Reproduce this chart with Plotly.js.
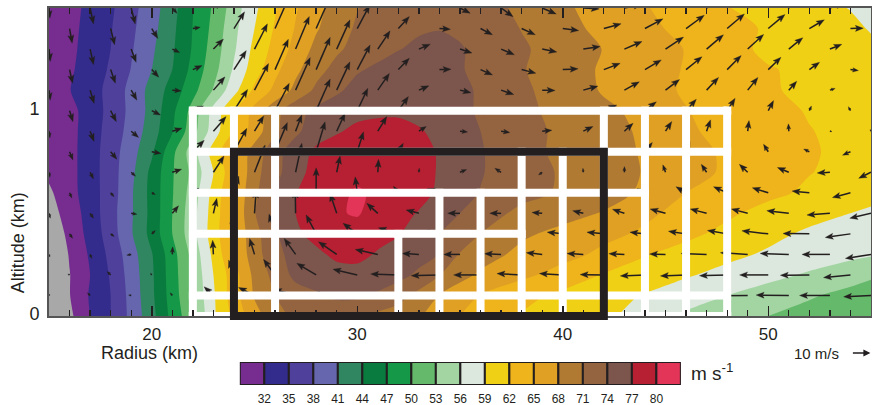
<!DOCTYPE html>
<html><head><meta charset="utf-8">
<script src="https://cdn.plot.ly/plotly-3.0.1.min.js"></script>
<style>html,body{margin:0;padding:0;background:#fff}</style></head>
<body><div id="chart" style="width:872px;height:405px"></div>
<script>
// Radius (km) and altitude (km) of the tangential wind grid
const radius = [15,16,17,18,19,20,21,22,23,24,25,26,27,28,29,30,31,32,33,34,35,36,38,40,42,44,46,48,50,52,54,55];
const altitude = [0,0.1,0.2,0.3,0.4,0.5,0.6,0.7,0.8,0.9,1.0,1.1,1.2,1.3,1.4,1.5];
// Wind speed (m/s) per altitude
const v00 = [24.5,28.3,32,35,38.8,43,48,52.3,58.5,62.8,66.9,69.7,71.8,72.5,72.6,71.8,70.3,69.7,68.3,66.6,65,63.9,61.8,60.7,59.6,57.8,55.5,54.3,53,52,51,50.6];
const v01 = [25,28.9,32.3,35,39,43.4,48.4,53.2,58.6,63.7,68.3,71,72.6,73.6,74.4,74.5,73.6,72,70.1,67.9,66.3,64.9,62.9,61.3,60.1,58.8,57.4,56,54.6,53.3,52.2,51.7];
const v02 = [25.5,28.9,32,35.3,39.3,43.5,48.6,53.5,59,63.7,68.8,72,74.8,75.4,75.9,76,75.6,75,73.4,71.1,69,67.5,65.7,63.8,61.8,60.6,59.3,58.1,56.9,55.6,54.1,53.4];
const v03 = [26,29.2,32.4,35.8,39.7,43.8,48.8,54,59.7,65.2,69.6,73.2,75,76.4,77.6,77.8,76.7,75.8,75.2,73.9,70.8,69.3,67.2,66,64.3,62.2,60.9,59.7,58.6,57.7,56.8,56.3];
const v04 = [26.5,29.8,33,36.5,40.7,45,50,55,60.6,65.4,69.9,73.6,76.5,77.9,78.4,78.6,78,77.2,75.7,74.1,72.5,71,68.5,67.2,65.8,64.5,62.7,61.2,59.8,58.5,57.3,56.8];
const v05 = [27.7,30.3,33.3,36.8,40.6,44.9,50,54.9,60.4,65.3,70.8,74.6,77,78.2,79.7,80.3,78.7,77.9,76.8,75.5,74,72.5,70.2,69,67.8,65.6,64,62.5,61,60,59,58.5];
const v06 = [28.5,30.9,33.6,36.5,40.6,45,49.8,54.4,60,65.2,70.3,74.1,76.9,78.1,79.4,80.3,79.6,79,78,76.5,74.9,73.9,72,70.6,69.2,67.5,65,63.9,62.7,61.5,60.5,60];
const v07 = [29.6,31,33.6,36.6,40.2,44.8,49.7,53.8,59,64.4,70,73,76,78,79.2,79.3,79.3,79.2,78.3,76.7,75.3,74.2,72.2,70.7,69.6,67.8,66,64.6,63.1,62.1,61.2,60.7];
const v08 = [30,31,33.6,36.5,39.8,43.5,49.2,54.7,60.2,65.3,69.2,72.9,75.5,77.6,78.5,79,79.3,79.1,78.5,76.6,75.3,74.2,72.2,70.2,69.2,67.7,65.7,64.7,63.4,62.2,61.5,61];
const v09 = [30,31,33.5,36.2,39.1,42.5,46.8,51.9,57.5,62.4,66.4,70.4,73.4,75.6,76.7,77.7,78.2,78.3,77.3,76.2,75.2,74,72,70.4,69.1,67.5,65.4,64.2,63.1,62.1,61.3,60.8];
const v10 = [30,31,33.4,35.9,38.8,42,46.3,51.1,57,61.7,66,70,73,74.7,75.6,76.1,76.3,76.3,76,75.5,74.6,73.7,71.8,70,68.6,67.2,65.1,64,62.9,61.8,61,60.6];
const v11 = [30.4,31.9,33.7,35.9,38.9,42,45.2,49,53.2,58,62.6,65.7,68.8,71.6,73.5,75,76,76.4,76.4,76,74.9,73.5,71.5,69.8,67.7,66,64.7,63.4,62.3,61.4,60.7,60.4];
const v12 = [30.2,31.6,33.2,35.4,38.1,41,44,47.9,51.9,56.4,60.6,64.2,67.3,69.9,72,73.7,74.5,75.2,75.7,75.8,74.3,73,71.2,69.5,67.6,66.3,64.8,63.4,62.2,61.4,60.8,60.4];
const v13 = [30,31.4,33,35,37.7,40.5,43.6,47.3,51.3,55.6,59.8,63,66,68.8,70.5,72,73.1,73.9,74.5,74.8,74.2,73.4,71.4,69.6,67.9,66.3,64.9,63,61.4,60.6,60,59.6];
const v14 = [30,31.3,32.8,34.8,37.4,40,43.3,47.1,50.8,55.2,59,62.3,65.2,67.7,69.7,71.4,72.4,73.1,73.7,73.9,73.6,72.9,70.9,69,67.2,65.7,64.2,62.9,61.7,60.8,59.6,58.8];
const v15 = [30,31.2,32.6,34.5,37.1,39.6,42.9,46.9,50.4,54.5,58.4,61.7,64.7,67.2,69.1,70.9,71.9,72.5,73,73.2,73,72.4,70.3,68.5,66.8,65.2,63.6,62.1,61,60,58.9,58];
const speedRows = [v00,v01,v02,v03,v04,v05,v06,v07,v08,v09,v10,v11,v12,v13,v14,v15];

// Band colours, slowest to fastest, and colourbar labels
const grayBand = '#a8a8a8';
const bandColors = ['#762d8f','#332c8c','#4f409b','#6566ae','#2f8660','#0a7b3e','#159847','#65b96a','#a3d5a3','#dce8dd','#f0d015','#efb31b','#dfa024','#b07a33','#946440','#7c564c','#b71f32','#e23558'];
const barLevels = [30.5,33.5,36.5,39.5,42.5,45.5,48.5,51.5,54.5,57.5,60.5,63.5,66.5,69.5,72.5,75.5,78.5,81.5];
const barTicks = [32,35,38,41,44,47,50,53,56,59,62,65,68,71,74,77,80];

// Wind vectors (m/s): radial u and vertical w along staggered levels
const u01 = [.4,-1.4,-1.4,-1.1,-4.9,-8.4,-11.6,-13.2,-14,-14,-14,-14,-14,-14,-14,-14,-15,-17.2,-17.2,-16,-14.4];
const w01 = [.7,1.4,.2,1.4,4.6,4.2,3.2,.9,0,0,0,0,0,0,0,0,0,-.2,.2,0,-.7];
const u02 = [-.9,-1.9,-.7,-.5,-2.8,-6.1,-10.2,-12.8,-14.6,-14.9,-14.2,-13,-12.3,-12.5,-13,-13.5,-14.6,-15.1,-15.3,-14.2];
const w02 = [.5,1.8,.9,1.4,7.9,8.2,6.1,3,.5,-.4,0,.7,.7,.2,-.5,-.5,-.4,0,-.2,-1.4];
const u03 = [.5,.9,-2.3,.2,-.4,-2.6,-6,-9.6,-11.9,-8.8,-8.6,-8.8,-8.4,-8.6,-8.2,-8.4,-13.5,-14.4,-15.1,-14.7,-13.5];
const w03 = [-1.4,-2.1,-.4,4,7.5,8.4,8.4,6.7,2.6,.5,0,.4,.9,.5,.4,.2,.5,.9,.5,0,-2.1];
const u04 = [1.6,1.9,1.9,.9,-1.1,-3.2,-5.3,-7.5,-10.5,-9.6,-8.8,-7.9,-8.2,-8.9,-7.9,-9.3,-10.4,-13.9,-13.9,-13.3];
const w04 = [-2.3,-1.4,1.8,3.5,9.6,10.5,10,5.6,3.2,1.1,.9,.7,.9,.9,.9,1.4,1.8,1.6,.2,-1.9];
const u05 = [.7,1.8,3,3.3,1.8,.9,-.2,-3.5,-5.8,-6.7,-6.5,-6,-5.4,-5.6,-6.3,-8.1,-8.6,-8.6,-11.6,-12.1,-11.2];
const w05 = [-2.6,-2.6,-.5,4,7.9,12.3,12.3,10.5,5.3,1.8,0,0,.5,1.4,2.1,2.3,2.3,2.3,1.4,-.9,-2.6];
const u06 = [1.2,1.8,1.9,3.2,2.5,.9,0,-1.1,-2.6,-6.5,-4.6,-2.6,-2.1,-1.8,-4.2,-5.3,-7.2,-8.4,-9.1,-9.5];
const w06 = [-2.8,-2.1,-.9,2.5,8.8,12.3,13.2,8.4,3.5,2.3,.5,0,1.8,1.2,2.3,3.2,3.2,2.6,.9,-2.5];
const u07 = [.5,1.8,2.3,4.9,5.6,5.6,3.3,1.8,.4,.2,3.5,-3.3,-1.9,-.2,0,-1.4,-2.8,-4.4,-6,-6.7,-6.5];
const w07 = [-2.6,-3.5,-2.1,1.6,8.6,14.4,15.3,8.6,6.8,2.1,1.4,2.1,-1.4,2.1,3,3.9,4.2,4.2,2.5,-.4,-3.2];
const u08 = [1.8,3.3,4.9,6,6.8,6.5,4.7,3.3,2.6,2.1,1.8,1.4,2.1,2.6,3.9,2.1,.9,-2.5,-3,-4.2];
const w08 = [-4.4,-4,-.9,6.1,12.3,15.4,15.8,10.5,4.4,.5,-.2,0,1.1,1.8,4.9,5.3,5.3,4,1.4,-1.8];
const u09 = [.5,2.1,3.9,5.1,6.7,4.9,3.3,4.4,4.7,3.9,4,4.6,5.1,5.1,4.6,3.3,2.1,.7,-.2,1.1,-.5];
const w09 = [-3.5,-5.4,-3.3,1.6,7.7,8.1,8.6,9.5,7.7,2.5,-.4,-.7,.5,2.5,4.2,5.1,6,5.6,3.9,-.2,.9];
const u10 = [1.8,3,4.6,5.6,7.2,7.5,7.4,5.6,5.3,5.3,5.3,5.6,6.1,6.8,6,5.4,4.2,2.8,1.1,-1.1];
const w10 = [-5.8,-5.8,-2.3,2.5,11.2,14.4,16.7,11.8,7.4,.9,-.9,-.9,.5,3,4.7,6,6.5,5.3,2.5,2.1];
const u11 = [.7,2.1,3,4.7,6.1,7.4,7.7,7,6.1,5.3,5.8,6.7,6.8,7.7,7.9,7.4,6.3,5.4,4.2,2.8,1.4];
const w11 = [-5.3,-7,-5.3,-.4,7,14,17.2,14.9,8.8,2.3,-1.4,-2.3,-.2,2.1,4.4,5.6,6.7,6.7,4.7,.9,0];
const u12 = [1.6,2.5,3.7,4.9,6.5,7,7.4,6.8,5.8,6.1,6.3,7.5,8.1,8.6,8.6,8.4,7.4,6.7,5.4,4.2];
const w12 = [-7.2,-7.2,-4,2.1,10,16,17,13,6,.2,-2.8,-1.9,.4,3.3,5.1,6.8,7.4,6.5,3.9,-.5];
const u13 = [.7,1.8,2.6,3.9,5.3,6.8,7.2,7,6.5,6,6.3,7,7.7,8.9,9.3,9.5,8.9,8.4,7.4,6.3,5.3];
const w13 = [-6.5,-8.2,-7,-1.8,5.3,13.3,17.2,15.4,9.6,2.6,-2.1,-3,-1.6,1.4,4,6.3,7.5,7.7,6,2.5,0];
const u14 = [1.4,2.1,3.2,3.9,5.6,7,7,6.5,5.8,5.8,6.3,7.2,8.4,9.1,9.5,9.6,9.1,8.8,7.9,6.8];
const w14 = [-7.7,-8.6,-5.3,.7,8.8,15.8,15.8,12.3,6.3,-.4,-3.3,-3.3,-1.1,2.5,5.1,7,7.7,7.4,4.6,.2];
const u15 = [.5,1.8,2.1,2.5,4.2,6.1,6.1,6.1,6.1,6.1,5.4,6.3,7.4,8.4,9.1,9.6,9.6,9.1,8.4,7.4,6.1];
const w15 = [-5.3,-8.4,-8.4,-2.8,2.8,12.3,14.9,14,9.6,3.5,-2.8,-4.6,-3.2,-.5,1.8,4.4,6.1,7,6.1,2.6,0];
const uRows = [null,u01,u02,u03,u04,u05,u06,u07,u08,u09,u10,u11,u12,u13,u14,u15];
const wRows = [null,w01,w02,w03,w04,w05,w06,w07,w08,w09,w10,w11,w12,w13,w14,w15];

// Analysis boxes: segments [r0, z0, r1, z1] in km
const whiteGrid = [[22,1,48,1],[22,.8,48,.8],[22,.6,44,.6],[22,.4,38,.4],[22,.1,48,.1],[22,0,48,0],
  [22,0,22,1],[24,0,24,1],[26,0,26,1],[42,.8,42,1],[44,0,44,1],[46,0,46,1],[48,0,48,1],
  [32,0,32,.4],[34,0,34,.6],[36,0,36,.6],[38,0,38,.8],[40,0,40,.8],[42,.6,42,.8]];
const blackRadius = [24,42];
const blackAltitude = [0,0.8];
const yTickPlaces = [0.012,1.012];
const yTickText = ['0','1'];

const ink = '#231f20';
const W = 872, H = 405, L = 48.7, R = 870.6, T = 8, B = 385, AXB = 316;
const pxR = (R - L) / 40, pxZ = (AXB - T) / 1.5, pxPerMs = 1.9;

// arrows through the data scale
const sx = [], sy = [], hx = [], hy = [];
for (let j = 1; j < uRows.length; j++) {
  const startR = j % 2 ? 15 : 16;
  uRows[j].forEach((u, i) => {
    const r0 = startR + 2 * i, z0 = j * 0.1;
    const dx = u * pxPerMs, dy = wRows[j][i] * pxPerMs;
    const len = Math.hypot(dx, dy);
    if (len < 0.5) return;
    const ux = dx / len, uy = dy / len;
    const hl = Math.min(8, 0.72 * len), hw = hl * 0.38, notch = hl * 0.8;
    const P = (a, b) => [r0 + (ux * a - uy * b) / pxR, z0 + (uy * a + ux * b) / pxZ];
    const nk = P(len - notch, 0), tip = P(len, 0), b1 = P(len - hl, hw), b2 = P(len - hl, -hw);
    sx.push(r0, nk[0], null); sy.push(z0, nk[1], null);
    hx.push(tip[0], b1[0], nk[0], b2[0], tip[0], null);
    hy.push(tip[1], b1[1], nk[1], b2[1], tip[1], null);
  });
}
function segs(list) {
  const x = [], y = [];
  list.forEach(s => { x.push(s[0], s[2], null); y.push(s[1], s[3], null); });
  return {x, y};
}
const wg = segs(whiteGrid);
const scale = [grayBand].concat(bandColors).map((c, i) => [i / 18, c]);

const traces = [
  {type:'contour', x:radius, y:altitude, z:speedRows, colorscale:scale, showscale:false,
   autocontour:false, contours:{start:29, end:80, size:3, coloring:'fill', showlines:false},
   line:{width:0, smoothing:0.8}, hoverinfo:'skip'},
  {type:'scatter', mode:'lines', x:sx, y:sy, line:{color:ink, width:1.5}, hoverinfo:'skip', connectgaps:false},
  {type:'scatter', mode:'lines', x:hx, y:hy, fill:'toself', fillcolor:ink, line:{color:ink, width:0.3}, hoverinfo:'skip'},
  {type:'scatter', mode:'lines+markers', x:wg.x, y:wg.y, line:{color:'#fff', width:8},
   marker:{symbol:'square', size:8, color:'#fff', line:{width:0}}, hoverinfo:'skip'},
  {type:'bar', x:barLevels, y:barLevels.map(() => 1), width:3, xaxis:'x2', yaxis:'y2', cliponaxis:false,
   marker:{color:bandColors, line:{color:ink, width:2}}, hoverinfo:'skip'}
];
const plotH = B - T, plotW = R - L;
const px = x => (x - L) / plotW, py = y => (B - y) / plotH;
const paperR = r => (r - 15) / 40, paperZ = z => py(AXB - z * pxZ);
const font = 'Liberation Sans, Arial, sans-serif';
const note = (x, y, text, size, extra) => Object.assign({xref:'paper', yref:'paper', x:px(x), y:py(y), text, showarrow:false,
  font:{family:font, size, color:ink}, xanchor:'center', yanchor:'middle'}, extra || {});
const layout = {
  width:W, height:H, showlegend:false, paper_bgcolor:'#fff', plot_bgcolor:'#fff',
  margin:{l:L, r:W - R, t:T, b:H - B, pad:0},
  font:{family:font, color:ink},
  xaxis:{domain:[0,1], anchor:'y', range:[15,55], tick0:10, dtick:10, ticks:'inside', ticklen:10, tickwidth:1.5, tickcolor:ink,
    minor:{dtick:1, ticks:'inside', ticklen:6, tickwidth:1.3, tickcolor:ink},
    showgrid:false, zeroline:false, showline:true, mirror:'allticks', linecolor:'#555', linewidth:2,
    tickfont:{size:17, family:font, color:ink}, ticklabelstandoff:2},
  yaxis:{domain:[py(AXB),1], anchor:'x', range:[0,1.5], tickvals:yTickPlaces, ticktext:yTickText, ticks:'', showgrid:false, zeroline:false,
    showline:true, mirror:true, linecolor:'#555', linewidth:2, tickfont:{size:18, family:font, color:ink}, ticklabelstandoff:4},
  xaxis2:{domain:[px(239.5),px(680.5)], anchor:'y2', range:[29,83], tickvals:barTicks, ticks:'', showgrid:false, zeroline:false,
    showline:false, tickfont:{size:12, family:font, color:ink}, ticklabelstandoff:5},
  yaxis2:{domain:[0,py(362)], anchor:'x2', range:[0,1], visible:false},
  bargap:0,
  shapes:[{type:'rect', xref:'paper', yref:'paper', layer:'above',
    x0:paperR(blackRadius[0]), x1:paperR(blackRadius[1]), y0:paperZ(blackAltitude[0]), y1:paperZ(blackAltitude[1]),
    line:{color:ink, width:8}, fillcolor:'rgba(0,0,0,0)'}],
  annotations:[
    note(149.5,353,'Radius (km)',18),
    note(18,243,'Altitude (km)',18,{textangle:-90}),
    note(816,353,'10 m/s',15),
    note(712,372,'m s<sup>-1</sup>',19),
    {xref:'paper', yref:'paper', x:px(870), y:py(353), ax:-19, ay:0, axref:'pixel', ayref:'pixel', text:'', showarrow:true,
     arrowhead:2, arrowsize:1, arrowwidth:1.4, arrowcolor:ink, standoff:0, startstandoff:0}
  ]
};
Plotly.newPlot('chart', traces, layout, {staticPlot:true, displayModeBar:false});
</script></body></html>
